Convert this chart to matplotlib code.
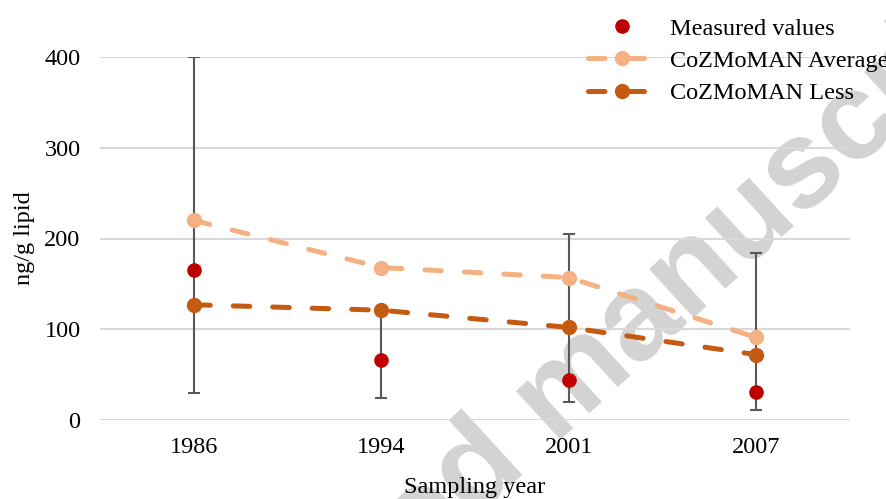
import matplotlib.pyplot as plt
import numpy as np

years = ["1986", "1994", "2001", "2007"]
measured = [165, 66, 44, 31]
err_low = [30, 24, 20, 11]
err_high = [400, 120, 205, 184]
cozmoman_avg = [220, 168, 157, 91]
cozmoman_less = [127, 121, 102, 72]

plt.rcParams['font.family'] = ['Liberation Serif', 'DejaVu Serif']

fig = plt.figure(figsize=(8.86, 4.99), dpi=100)
ax = fig.add_axes([100 / 886, 79 / 499, 750 / 886, 363 / 499])
ax.set_facecolor('none')

x = np.arange(len(years))
meas = np.array(measured)
yerr = [meas - np.array(err_low), np.array(err_high) - meas]

dash = (0, (3.3, 4.6))
ax.errorbar(x, meas, yerr=yerr, fmt='none', ecolor='#595959', elinewidth=1.5,
            capsize=4.5, capthick=1.5, zorder=3)
ax.plot(x, cozmoman_avg, color='#F4B183', ls=dash, lw=3.6, marker='o',
        ms=10, dash_capstyle='round', label='CoZMoMAN Average', zorder=4)
ax.plot(x, cozmoman_less, color='#C55A11', ls=dash, lw=3.6, marker='o',
        ms=10, dash_capstyle='round', label='CoZMoMAN Less', zorder=4)
ax.plot(x, measured, ls='none', marker='o', color='#C00000', ms=9.5,
        label='Measured values', zorder=5)

ax.set_xlim(-0.5, 3.5)
ax.set_ylim(0, 400)
ax.set_yticks([0, 100, 200, 300, 400])
ax.set_xticks(x)
ax.set_xticklabels(years)
ax.grid(axis='y', color='#d9d9d9', lw=1.5)
ax.set_axisbelow(True)
for s in ax.spines.values():
    s.set_visible(False)
ax.tick_params(length=0, labelsize=17.5, pad=12)
ax.tick_params(axis='y', pad=14)
ax.set_xlabel('Sampling year', fontsize=17.5, labelpad=14)
ax.set_ylabel('ng/g lipid', fontsize=17.5, labelpad=7)

h, l = ax.get_legend_handles_labels()
order = [2, 0, 1]
leg = fig.legend([h[i] for i in order], [l[i] for i in order], loc='upper left',
                 bbox_to_anchor=(573 / 886, 1 - 3 / 499), frameon=False,
                 fontsize=17.5, handlelength=2.8, handletextpad=0.6,
                 labelspacing=0.42, borderaxespad=0.2)
leg.set_zorder(10)

# watermark
fig.text(561 / 886, 1 - 396 / 499, 'Accepted manuscript', fontsize=90,
         fontweight='bold', family='Liberation Sans', color='#d3d3d3',
         rotation=42.5, ha='center', va='center', rotation_mode='anchor',
         zorder=-1)

fig.savefig('out.png', dpi=100)
